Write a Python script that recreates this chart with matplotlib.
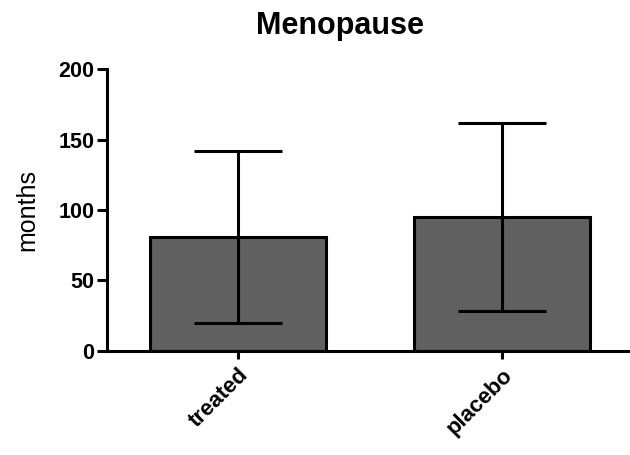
import numpy as np
import matplotlib
matplotlib.use("Agg")
import matplotlib.pyplot as plt

# dane
groups = ["treated", "placebo"]
means = [81, 95]
err_low = [20, 28]     # dolny koniec słupka błędu
err_high = [142, 162]  # górny koniec słupka błędu

plt.rcParams["font.family"] = ["Liberation Sans", "DejaVu Sans"]

fig = plt.figure(figsize=(6.3, 4.55), dpi=100)
ax = fig.add_axes([0.170, 0.229, 0.827, 0.619])

x = np.arange(len(groups))
yerr = [np.array(means) - np.array(err_low), np.array(err_high) - np.array(means)]

ax.bar(x, means, width=0.667, color="#606060", edgecolor="black", linewidth=2.2, zorder=2)
ax.errorbar(x, means, yerr=yerr, fmt="none", ecolor="black", elinewidth=2.2,
            capsize=32, capthick=2.2, zorder=3)

ax.set_xlim(-0.496, 1.477)
ax.set_ylim(0, 200)
ax.set_yticks([0, 50, 100, 150, 200])
ax.set_xticks(x)
ax.set_xticklabels(groups, rotation=45, ha="right", rotation_mode="anchor",
                   fontsize=16, fontweight="bold")
for lab in ax.get_yticklabels():
    lab.set_fontsize(15.5)
    lab.set_fontweight("bold")

ax.spines["top"].set_visible(False)
ax.spines["right"].set_visible(False)
ax.spines["left"].set_linewidth(2.2)
ax.spines["bottom"].set_linewidth(2.2)
ax.tick_params(axis="y", length=7, width=2.2, pad=2)
ax.tick_params(axis="x", length=6, width=2.2, pad=4)

ax.set_ylabel("months", fontsize=18, labelpad=14)
fig.text(340 / 630, 1 - 26 / 455, "Menopause", ha="center", va="center",
         fontsize=22, fontweight="bold")

plt.savefig("out.png", dpi=100)
